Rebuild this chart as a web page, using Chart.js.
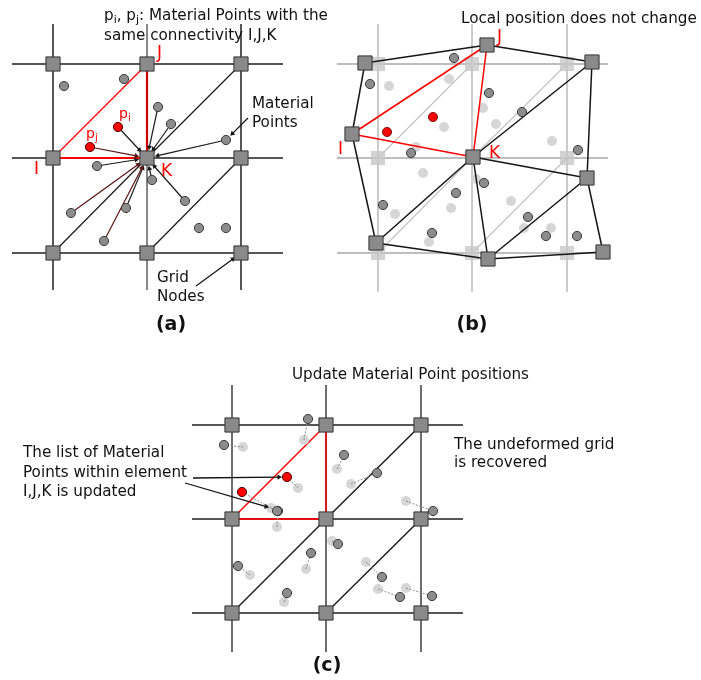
<!DOCTYPE html>
<html>
<head>
<meta charset="utf-8">
<script src="https://cdn.jsdelivr.net/npm/chart.js@4.4.1/dist/chart.umd.min.js"></script>
<style>
  html, body { margin: 0; padding: 0; background: #ffffff; }
  canvas { display: block; }
</style>
</head>
<body>
<canvas id="diagram" width="701" height="680"></canvas>
<script>
// ---------------- Panel (a): undeformed grid, material points mapped to node K ----------------
const aGridX = [53, 147, 241];
const aGridY = [64, 158, 253];
const aSpanX = [12, 283];
const aSpanY = [24, 290];
const aDiagonals = [[53, 253, 147, 158], [147, 158, 241, 64], [147, 253, 241, 158]];
const aElement = [[53, 158], [147, 64], [147, 158]];            // I, J, K
const aPoints = [[64, 86], [124, 79], [158, 107], [171, 124], [226, 140], [97, 166], [152, 180],
                 [185, 201], [71, 213], [126, 208], [104, 241], [199, 228], [226, 228]];
const aRedPoints = [[118, 127], [90, 147]];                       // p_i, p_j
const aMappedToK = [[118, 127], [90, 147], [158, 107], [171, 124], [226, 140], [97, 166],
                    [152, 180], [185, 201], [71, 213], [126, 208], [104, 241]];
const aReddishArrows = [1, 8, 10];

// ---------------- Panel (b): deformed grid ----------------
const bGridX = [378, 472, 567];
const bGridY = [64, 158, 253];
const bSpanX = [337, 608];
const bSpanY = [24, 292];
const bNodeNames = ['TL', 'J', 'TR', 'I', 'K', 'R', 'BL', 'BM', 'BR'];
const bNodes = [[365, 63], [487, 45], [592, 62], [352, 134], [473, 157], [587, 178], [376, 243], [488, 259], [603, 252]];
const bEdges = [['TL', 'J'], ['J', 'TR'], ['TL', 'I'], ['I', 'BL'], ['TR', 'R'], ['R', 'BR'], ['BL', 'BM'], ['BM', 'BR'],
                ['K', 'R'], ['K', 'BM'], ['BL', 'K'], ['BM', 'R'], ['K', 'TR']];
const bRedEdges = [['I', 'J'], ['J', 'K'], ['I', 'K']];
const bPoints = [[454, 58], [370, 84], [489, 93], [522, 112], [411, 153], [578, 150], [484, 183], [456, 193],
                 [383, 205], [528, 217], [432, 233], [546, 236], [577, 236]];
const bRedPoints = [[433, 117], [387, 132]];
const bGhostPoints = [[389, 86], [449, 79], [483, 108], [496, 124], [444, 127], [552, 141], [416, 147], [423, 173],
                      [476, 179], [511, 201], [451, 208], [395, 214], [429, 242], [524, 228], [551, 228]];

// ---------------- Panel (c): grid recovered, points moved ----------------
const cGridX = [232, 326, 421];
const cGridY = [425, 519, 613];
const cSpanX = [192, 463];
const cSpanY = [385, 652];
const cDiagonals = [[326, 519, 421, 425], [232, 613, 326, 519], [326, 613, 421, 519]];
const cElement = [[232, 519], [326, 425], [326, 519]];
// [old x, old y, new x, new y]
const cMoves = [[304, 440, 308, 419], [243, 447, 224, 445], [337, 469, 344, 455], [298, 488, 287, 477],
                [351, 484, 377, 473], [406, 501, 433, 511], [277, 527, 278, 511], [332, 541, 338, 544],
                [306, 569, 311, 553], [250, 575, 238, 566], [366, 562, 382, 577], [284, 602, 287, 593],
                [378, 589, 400, 597], [406, 588, 432, 596], [271, 508, 277, 511]];
const cRedNew = [[287, 477]];
const cRedOld = [[242, 492]];
const cRedTrail = [[242, 492, 271, 508]];

// ---------------- dataset builders ----------------
const layers = [];
const xy = p => ({ x: p[0], y: p[1] });

function addLine(pts, color, width, dash) {
  layers.push({
    showLine: true, data: pts.map(xy), borderColor: color, borderWidth: width,
    borderDash: dash || [], pointRadius: 0, fill: false, tension: 0
  });
}
function addMarks(pts, style, r, fill, stroke, bw) {
  layers.push({
    showLine: false, data: pts.map(xy), pointStyle: style, pointRadius: r,
    backgroundColor: fill, borderColor: stroke, borderWidth: bw
  });
}
function addArrow(x1, y1, x2, y2, color, width, head, gap) {
  const dx = x2 - x1, dy = y2 - y1, L = Math.hypot(dx, dy), ux = dx / L, uy = dy / L;
  const cx = x2 - ux * (gap + head), cy = y2 - uy * (gap + head);
  addLine([[x1, y1], [cx, cy]], color, width);
  layers.push({
    showLine: false, data: [{ x: cx, y: cy }], pointStyle: 'triangle', pointRadius: head,
    pointRotation: Math.atan2(dy, dx) * 180 / Math.PI + 90,
    backgroundColor: color, borderColor: color, borderWidth: 0
  });
}
function gridLines(xs, ys, spanX, spanY, hColor, vColor, width, midColor) {
  ys.forEach(y => addLine([[spanX[0], y], [spanX[1], y]], hColor, width));
  xs.forEach((x, i) => addLine([[x, spanY[0]], [x, spanY[1]]], (i === 1 && midColor) ? midColor : vColor, width));
}
function allNodes(xs, ys) {
  const out = [];
  ys.forEach(y => xs.forEach(x => out.push([x, y])));
  return out;
}
const NODE_FILL = '#8a8a8a', NODE_EDGE = '#333333';
const MP_FILL = '#8c8c8c', MP_EDGE = '#3a3a3a';
const GHOST = '#d6d6d6';
const RED = '#ff0000';

// ---- panel (a)
gridLines(aGridX, aGridY, aSpanX, aSpanY, '#1e1e1e', '#2e2e2e', 1.6, '#6a6a6a');
aDiagonals.forEach(d => addLine([[d[0], d[1]], [d[2], d[3]]], '#1e1e1e', 1.3));
addLine([aElement[0], aElement[1]], RED, 1.2);
addLine([aElement[1], aElement[2]], '#d10000', 2.2);
addLine([aElement[0], aElement[2]], RED, 2);
aMappedToK.forEach((p, i) => {
  const col = aReddishArrows.includes(i) ? '#5a1212' : '#1a1a1a';
  addArrow(p[0], p[1], aElement[2][0], aElement[2][1], col, 1.2, 3, 8);
});
addArrow(248, 118, 226, 140, '#111111', 1.2, 3, 6);
addArrow(196, 286, 241, 253, '#111111', 1.2, 3, 7);
addMarks(allNodes(aGridX, aGridY), 'rect', 10, NODE_FILL, NODE_EDGE, 1);
addMarks(aPoints, 'circle', 4.6, MP_FILL, MP_EDGE, 1);
addMarks(aRedPoints, 'circle', 4.6, RED, '#4a0000', 1);

// ---- panel (b)
gridLines(bGridX, bGridY, bSpanX, bSpanY, '#a8a8a8', '#bdbdbd', 1.6);
[[378, 158, 472, 64], [472, 158, 567, 64], [378, 253, 472, 158], [472, 253, 567, 158]]
  .forEach(d => addLine([[d[0], d[1]], [d[2], d[3]]], '#c4c4c4', 1.2));
addMarks(allNodes(bGridX, bGridY), 'rect', 10, 'rgba(200,200,200,0.8)', 'rgba(200,200,200,0)', 0);
addMarks(bGhostPoints, 'circle', 5, GHOST, GHOST, 0);
const bAt = n => bNodes[bNodeNames.indexOf(n)];
bEdges.forEach(e => addLine([bAt(e[0]), bAt(e[1])], '#151515', 1.5));
bRedEdges.forEach(e => addLine([bAt(e[0]), bAt(e[1])], RED, 1.5));
addMarks(bNodes, 'rect', 10, NODE_FILL, NODE_EDGE, 1);
addMarks(bPoints, 'circle', 4.6, MP_FILL, MP_EDGE, 1);
addMarks(bRedPoints, 'circle', 4.6, RED, '#5a0000', 0.8);

// ---- panel (c)
gridLines(cGridX, cGridY, cSpanX, cSpanY, '#1e1e1e', '#4a4a4a', 1.6);
cDiagonals.forEach(d => addLine([[d[0], d[1]], [d[2], d[3]]], '#1e1e1e', 1.5));
addLine([cElement[0], cElement[1]], RED, 1.5);
addLine([cElement[1], cElement[2]], RED, 1.5);
addLine([cElement[0], cElement[2]], '#e01010', 2);
addMarks(allNodes(cGridX, cGridY), 'rect', 10, NODE_FILL, NODE_EDGE, 1);
addMarks(cMoves.map(m => [m[0], m[1]]), 'circle', 5, GHOST, GHOST, 0);
cMoves.forEach(m => addLine([[m[0], m[1]], [m[2], m[3]]], '#8a8a8a', 1, [2, 1.5]));
cRedTrail.forEach(m => addLine([[m[0], m[1]], [m[2], m[3]]], '#8a8a8a', 1, [2, 1.5]));
addMarks(cMoves.filter(m => !cRedNew.some(r => r[0] === m[2] && r[1] === m[3])).map(m => [m[2], m[3]]),
         'circle', 4.6, MP_FILL, MP_EDGE, 1);
addMarks(cRedNew.concat(cRedOld), 'circle', 4.6, RED, '#4a0000', 1);
addArrow(193, 478, 287, 477, '#111111', 1.3, 3, 5);
addArrow(185, 483, 271, 508, '#111111', 1.3, 3, 2);

// first pushed = drawn first (underneath)
layers.forEach((d, i) => { d.order = layers.length - i; d.clip = false; });

// ---------------- text ----------------
const FONT = '"DejaVu Sans", Verdana, sans-serif';
const TXT = 15.2;
const labels = [
  { x: 104, y: 16, rich: [['p'], ['i', 1], [', '], ['p'], ['j', 1], [': Material Points with the']], size: TXT, color: '#111' },
  { x: 104, y: 36, text: 'same connectivity I,J,K', size: TXT, color: '#111' },
  { x: 157, y: 54, text: 'J', size: 17, color: RED },
  { x: 34, y: 170, text: 'I', size: 17, color: RED },
  { x: 161, y: 172, text: 'K', size: 17, color: RED },
  { x: 119, y: 114, rich: [['p'], ['i', 1]], size: 14, color: RED },
  { x: 86, y: 134, rich: [['p'], ['j', 1]], size: 14, color: RED },
  { x: 252, y: 104, text: 'Material', size: TXT, color: '#111' },
  { x: 252, y: 123, text: 'Points', size: TXT, color: '#111' },
  { x: 157, y: 278, text: 'Grid', size: TXT, color: '#111' },
  { x: 157, y: 297, text: 'Nodes', size: TXT, color: '#111' },
  { x: 171, y: 325, text: '(a)', size: 19, bold: true, color: '#111', center: true },

  { x: 461, y: 19, text: 'Local position does not change', size: TXT, color: '#111' },
  { x: 497, y: 38, text: 'J', size: 17, color: RED },
  { x: 338, y: 150, text: 'I', size: 17, color: RED },
  { x: 489, y: 154, text: 'K', size: 17, color: RED },
  { x: 472, y: 325, text: '(b)', size: 19, bold: true, color: '#111', center: true },

  { x: 292, y: 375, text: 'Update Material Point positions', size: TXT, color: '#111' },
  { x: 23, y: 453, text: 'The list of Material', size: TXT, color: '#111' },
  { x: 23, y: 473, text: 'Points within element', size: TXT, color: '#111' },
  { x: 23, y: 492, text: 'I,J,K is updated', size: TXT, color: '#111' },
  { x: 454, y: 445, text: 'The undeformed grid', size: TXT, color: '#111' },
  { x: 454, y: 463, text: 'is recovered', size: TXT, color: '#111' },
  { x: 327, y: 666, text: '(c)', size: 19, bold: true, color: '#111', center: true }
];

const textPlugin = {
  id: 'diagramText',
  afterDatasetsDraw(chart) {
    const { ctx } = chart;
    const sx = chart.scales.x, sy = chart.scales.y;
    ctx.save();
    ctx.textBaseline = 'middle';
    labels.forEach(l => {
      const font = (l.bold ? 'bold ' : '') + l.size + 'px ' + FONT;
      const subFont = Math.round(l.size * 0.7) + 'px ' + FONT;
      let px = sx.getPixelForValue(l.x);
      const py = sy.getPixelForValue(l.y);
      ctx.fillStyle = l.color;
      if (l.rich) {
        l.rich.forEach(([t, sub]) => {
          ctx.font = sub ? subFont : font;
          ctx.textAlign = 'left';
          ctx.fillText(t, px, sub ? py + l.size * 0.28 : py);
          px += ctx.measureText(t).width;
        });
      } else {
        ctx.font = font;
        ctx.textAlign = l.center ? 'center' : 'left';
        ctx.fillText(l.text, px, py);
      }
    });
    ctx.restore();
  }
};

new Chart(document.getElementById('diagram').getContext('2d'), {
  type: 'scatter',
  data: { datasets: layers },
  options: {
    responsive: false,
    animation: false,
    events: [],
    layout: { padding: 0, autoPadding: false },
    plugins: { legend: { display: false }, tooltip: { enabled: false } },
    scales: {
      x: { type: 'linear', min: 0, max: 701, display: false },
      y: { type: 'linear', min: 0, max: 680, reverse: true, display: false }
    }
  },
  plugins: [textPlugin]
});
</script>
</body>
</html>
